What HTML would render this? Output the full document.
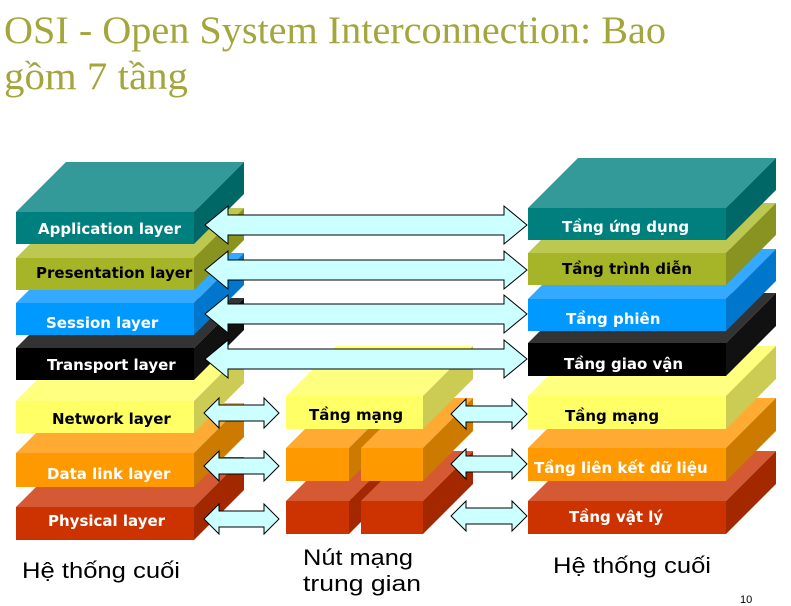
<!DOCTYPE html>
<html><head><meta charset="utf-8"><style>
html,body{margin:0;padding:0;background:#fff;width:791px;height:606px;overflow:hidden}
svg{display:block}
.t{font-family:"DejaVu Sans","Liberation Sans",sans-serif;font-weight:bold;font-size:15px}
.w{fill:#fff}.b{fill:#000}
.a{fill:#ccffff;stroke:#000;stroke-width:1}
.bl{font-family:"Liberation Sans","DejaVu Sans",sans-serif;font-size:22px;fill:#000}
</style></head><body>
<svg width="791" height="606" viewBox="0 0 791 606" xmlns="http://www.w3.org/2000/svg">
<text x="4" y="43" font-family="Liberation Serif, DejaVu Serif, serif" font-size="39" fill="#a3a63d" textLength="662" lengthAdjust="spacingAndGlyphs">OSI - Open System Interconnection: Bao</text>
<text x="4" y="89" font-family="Liberation Serif, DejaVu Serif, serif" font-size="39" fill="#a3a63d" textLength="184" lengthAdjust="spacingAndGlyphs">gồm 7 tầng</text>

<g>
<rect x="16" y="507" width="178" height="33" fill="#cc3300"/><polygon points="16,507 66,457 244,457 194,507" fill="#d55a33"/><polygon points="194,507 244,457 244,490 194,540" fill="#a32800"/>
<rect x="16" y="453" width="178" height="34" fill="#ff9900"/><polygon points="16,453 66,403 244,403 194,453" fill="#ffaa33"/><polygon points="194,453 244,403 244,437 194,487" fill="#cc7a00"/>
<rect x="16" y="401" width="178" height="32" fill="#ffff66"/><polygon points="16,401 66,351 244,351 194,401" fill="#ffff80"/><polygon points="194,401 244,351 244,383 194,433" fill="#cccc55"/>
<rect x="16" y="348" width="178" height="32" fill="#000"/><polygon points="16,348 66,298 244,298 194,348" fill="#333"/><polygon points="194,348 244,298 244,330 194,380" fill="#111"/>
<rect x="16" y="303" width="178" height="32" fill="#0099ff"/><polygon points="16,303 66,253 244,253 194,303" fill="#33aaff"/><polygon points="194,303 244,253 244,285 194,335" fill="#0077cc"/>
<rect x="16" y="258" width="178" height="32" fill="#a6b528"/><polygon points="16,258 66,208 244,208 194,258" fill="#bcc850"/><polygon points="194,258 244,208 244,240 194,290" fill="#88941f"/>
<rect x="16" y="212" width="178" height="32" fill="#007f7f"/><polygon points="16,212 66,162 244,162 194,212" fill="#339999"/><polygon points="194,212 244,162 244,194 194,244" fill="#006666"/>
</g>

<g>
<rect x="528" y="501" width="198" height="33" fill="#cc3300"/><polygon points="528,501 578,451 776,451 726,501" fill="#d55a33"/><polygon points="726,501 776,451 776,484 726,534" fill="#a32800"/>
<rect x="528" y="448" width="198" height="33" fill="#ff9900"/><polygon points="528,448 578,398 776,398 726,448" fill="#ffaa33"/><polygon points="726,448 776,398 776,431 726,481" fill="#cc7a00"/>
<rect x="528" y="396" width="198" height="33" fill="#ffff66"/><polygon points="528,396 578,346 776,346 726,396" fill="#ffff80"/><polygon points="726,396 776,346 776,379 726,429" fill="#cccc55"/>
<rect x="528" y="343" width="198" height="33" fill="#000"/><polygon points="528,343 578,293 776,293 726,343" fill="#333"/><polygon points="726,343 776,293 776,326 726,376" fill="#111"/>
<rect x="528" y="299" width="198" height="32" fill="#0099ff"/><polygon points="528,299 578,249 776,249 726,299" fill="#33aaff"/><polygon points="726,299 776,249 776,281 726,331" fill="#0077cc"/>
<rect x="528" y="253" width="198" height="32" fill="#a6b528"/><polygon points="528,253 578,203 776,203 726,253" fill="#bcc850"/><polygon points="726,253 776,203 776,235 726,285" fill="#88941f"/>
<rect x="528" y="208" width="198" height="32" fill="#007f7f"/><polygon points="528,208 578,158 776,158 726,208" fill="#339999"/><polygon points="726,208 776,158 776,190 726,240" fill="#006666"/>
</g>

<g>
<rect x="286" y="501" width="63" height="33" fill="#cc3300"/><polygon points="286,501 336,451 399,451 349,501" fill="#d55a33"/><polygon points="349,501 399,451 399,484 349,534" fill="#a32800"/>
<rect x="361" y="501" width="62" height="33" fill="#cc3300"/><polygon points="361,501 411,451 473,451 423,501" fill="#d55a33"/><polygon points="423,501 473,451 473,484 423,534" fill="#a32800"/>
<rect x="286" y="448" width="63" height="33" fill="#ff9900"/><polygon points="286,448 336,398 399,398 349,448" fill="#ffaa33"/><polygon points="349,448 399,398 399,431 349,481" fill="#cc7a00"/>
<rect x="361" y="448" width="62" height="33" fill="#ff9900"/><polygon points="361,448 411,398 473,398 423,448" fill="#ffaa33"/><polygon points="423,448 473,398 473,431 423,481" fill="#cc7a00"/>
<rect x="286" y="396" width="137" height="33" fill="#ffff66"/><polygon points="286,396 336,346 473,346 423,396" fill="#ffff80"/><polygon points="423,396 473,346 473,379 423,429" fill="#cccc55"/>
</g>

<path class="a" d="M205,225 L228,206 L228,215 L504,215 L504,206 L527,225 L504,244 L504,235 L228,235 L228,244 Z"/>
<path class="a" d="M205,270 L228,251 L228,260 L504,260 L504,251 L527,270 L504,289 L504,280 L228,280 L228,289 Z"/>
<path class="a" d="M205,314 L228,295 L228,304 L504,304 L504,295 L527,314 L504,333 L504,324 L228,324 L228,333 Z"/>
<path class="a" d="M205,359 L228,340 L228,349 L504,349 L504,340 L527,359 L504,378 L504,369 L228,369 L228,378 Z"/>

<path class="a" d="M204,413 L219,398 L219,405 L264,405 L264,398 L279,413 L264,428 L264,421 L219,421 L219,428 Z"/>
<path class="a" d="M204,466 L219,451 L219,458 L264,458 L264,451 L279,466 L264,481 L264,474 L219,474 L219,481 Z"/>
<path class="a" d="M204,519 L219,504 L219,511 L264,511 L264,504 L279,519 L264,534 L264,527 L219,527 L219,534 Z"/>
<path class="a" d="M451,414 L466,399 L466,406 L512,406 L512,399 L527,414 L512,429 L512,422 L466,422 L466,429 Z"/>
<path class="a" d="M451,464 L466,449 L466,456 L512,456 L512,449 L527,464 L512,479 L512,472 L466,472 L466,479 Z"/>
<path class="a" d="M451,516 L466,501 L466,508 L512,508 L512,501 L527,516 L512,531 L512,524 L466,524 L466,531 Z"/>

<text class="t w" x="38" y="234">Application layer</text>
<text class="t b" x="36" y="278">Presentation layer</text>
<text class="t w" x="46" y="328">Session layer</text>
<text class="t w" x="47" y="370">Transport layer</text>
<text class="t b" x="52" y="424">Network layer</text>
<text class="t w" x="47" y="479">Data link layer</text>
<text class="t w" x="48" y="526">Physical layer</text>

<text class="t w" x="562" y="232">Tầng ứng dụng</text>
<text class="t b" x="562" y="274">Tầng trình diễn</text>
<text class="t w" x="566" y="324">Tầng phiên</text>
<text class="t w" x="564" y="369">Tầng giao vận</text>
<text class="t b" x="565" y="421">Tầng mạng</text>
<text class="t w" x="534" y="473">Tầng liên kết dữ liệu</text>
<text class="t w" x="569" y="522">Tầng vật lý</text>

<text class="t b" x="309" y="420">Tầng mạng</text>

<text class="bl" x="22" y="578" textLength="158" lengthAdjust="spacingAndGlyphs">Hệ thống cuối</text>
<text class="bl" x="303" y="565" textLength="110" lengthAdjust="spacingAndGlyphs">Nút mạng</text>
<text class="bl" x="303" y="591" textLength="118" lengthAdjust="spacingAndGlyphs">trung gian</text>
<text class="bl" x="553" y="573" textLength="158" lengthAdjust="spacingAndGlyphs">Hệ thống cuối</text>
<text x="740" y="603" font-family="Liberation Sans, DejaVu Sans, sans-serif" font-size="11" fill="#000">10</text>
</svg>
</body></html>
